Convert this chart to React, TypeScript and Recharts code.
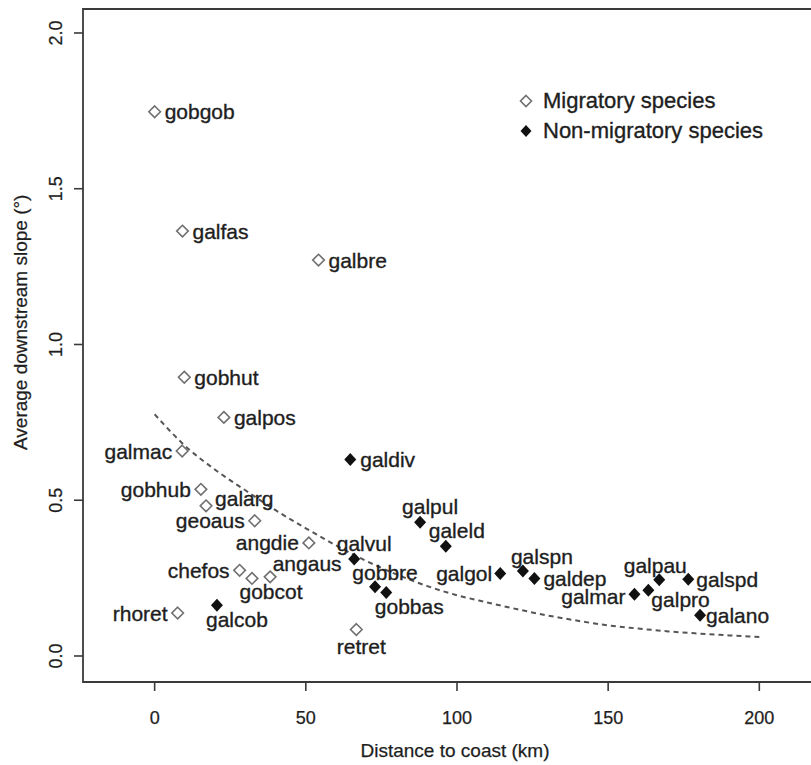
import React from 'react';
import { ComposedChart, Scatter, Line, XAxis, YAxis, ReferenceArea, Legend } from 'recharts';

// migratory species (open diamonds)
const migratoryNames = ['gobgob', 'galfas', 'galbre', 'gobhut', 'galpos', 'galmac', 'gobhub', 'galarg', 'geoaus', 'angdie', 'chefos', 'gobcot', 'angaus', 'rhoret', 'retret'];
const migratoryDistance = [0, 9.2, 54.2, 9.8, 22.9, 9.1, 15.3, 17.0, 33.1, 51.0, 28.1, 32.2, 38.2, 7.6, 66.7];
const migratorySlope = [1.747, 1.364, 1.271, 0.895, 0.766, 0.658, 0.535, 0.482, 0.434, 0.363, 0.275, 0.249, 0.254, 0.138, 0.085];

// non-migratory species (filled diamonds)
const residentNames = ['galdiv', 'galpul', 'galeld', 'galvul', 'gobbre', 'gobbas', 'galcob', 'galgol', 'galspn', 'galdep', 'galmar', 'galpro', 'galpau', 'galspd', 'galano'];
const residentDistance = [64.7, 87.8, 96.3, 66.0, 72.9, 76.6, 20.6, 114.3, 121.8, 125.6, 158.7, 163.3, 166.9, 176.5, 180.4];
const residentSlope = [0.631, 0.429, 0.352, 0.311, 0.222, 0.204, 0.163, 0.265, 0.273, 0.249, 0.198, 0.211, 0.245, 0.246, 0.131];

// fitted curve
const curveDistance = [0, 10, 20, 30, 40, 50, 60, 70, 80, 90, 100, 110, 120, 130, 140, 150, 160, 170, 180, 190, 200];
const curveSlope = [0.776, 0.675, 0.598, 0.532, 0.468, 0.41, 0.355, 0.305, 0.262, 0.225, 0.195, 0.172, 0.15, 0.13, 0.113, 0.098, 0.088, 0.079, 0.072, 0.066, 0.061];

const xTicks = [0, 50, 100, 150, 200];
const yTicks = [0, 0.5, 1, 1.5, 2];

const X_DOMAIN = [-23.7, 224.7];
const Y_DOMAIN = [-0.0835, 2.077];

const SERIES = ['Migratory species', 'Non-migratory species'];

const FONT = '"Liberation Sans", Arial, Helvetica, sans-serif';
const TEXT = '#1e1e1e';

const toPoints = (names, dist, slope) => names.map((name, i) => ({ name, x: dist[i], y: slope[i] }));
const migratory = toPoints(migratoryNames, migratoryDistance, migratorySlope);
const resident = toPoints(residentNames, residentDistance, residentSlope);
const curve = curveDistance.map((x, i) => ({ x, y: curveSlope[i] }));

// where each label sits relative to its point
const R = { dx: 10, dy: 0, anchor: 'start' };
const L = { dx: -10, dy: 0, anchor: 'end' };
const LABELS = {
  galmac: L, gobhub: L, geoaus: L, angdie: L, chefos: L, rhoret: L, galgol: { dx: -8, dy: 0, anchor: 'end' },
  galmar: { dx: -9, dy: 2, anchor: 'end' },
  galarg: { dx: 9, dy: -7, anchor: 'start' },
  galpul: { dx: 10, dy: -16, anchor: 'middle' },
  galeld: { dx: 11, dy: -16, anchor: 'middle' },
  galvul: { dx: 10, dy: -16, anchor: 'middle' },
  gobcot: { dx: 19, dy: 13, anchor: 'middle' },
  angaus: { dx: 37, dy: -13, anchor: 'middle' },
  gobbre: { dx: 10, dy: -14, anchor: 'middle' },
  gobbas: { dx: 23, dy: 14, anchor: 'middle' },
  galcob: { dx: 20, dy: 14, anchor: 'middle' },
  retret: { dx: 5, dy: 17, anchor: 'middle' },
  galspn: { dx: 19, dy: -14, anchor: 'middle' },
  galpau: { dx: -4, dy: -14, anchor: 'middle' },
  galpro: { dx: 3, dy: 9, anchor: 'start' },
  galdep: { dx: 9, dy: 0, anchor: 'start' },
  galspd: { dx: 8, dy: 0, anchor: 'start' },
  galano: { dx: 6, dy: 0, anchor: 'start' },
};

const diamondPath = (cx, cy, w, h) => `M${cx},${cy - h} L${cx + w},${cy} L${cx},${cy + h} L${cx - w},${cy} Z`;

const SpeciesPoint = (props) => {
  const { cx, cy, payload, filled } = props;
  if (cx == null || cy == null) return null;
  const pos = LABELS[payload.name] || R;
  return (
    <g>
      {filled ? (
        <path d={diamondPath(cx, cy, 6, 6.5)} fill="#111" />
      ) : (
        <path d={diamondPath(cx, cy, 5.8, 5.8)} fill="#fff" stroke="#707070" strokeWidth={1.6} />
      )}
      <text
        x={cx + pos.dx}
        y={cy + pos.dy}
        textAnchor={pos.anchor}
        dominantBaseline="central"
        fontSize={21}
        fontFamily={FONT}
        fill={TEXT}
        stroke={TEXT}
        strokeWidth={0.35}
      >
        {payload.name}
      </text>
    </g>
  );
};

const XTick = ({ x, y, payload }) => (
  <text x={x} y={y + 31} textAnchor="middle" fontSize={18} fontFamily={FONT} fill={TEXT} stroke={TEXT} strokeWidth={0.25}>
    {payload.value}
  </text>
);

const YTick = ({ y, payload }) => (
  <text x={62} y={y} transform={`rotate(-90, 62, ${y})`} textAnchor="middle" fontSize={18} fontFamily={FONT} fill={TEXT} stroke={TEXT} strokeWidth={0.25}>
    {Number(payload.value).toFixed(1)}
  </text>
);

const renderLegend = ({ payload }) => (
  <div style={{ fontFamily: FONT, fontSize: 22, color: TEXT, WebkitTextStroke: '0.35px #1e1e1e' }}>
    {(payload || [])
      .filter((entry) => SERIES.includes(entry.value))
      .map((entry) => {
        const filled = entry.value === SERIES[1];
        return (
          <div key={entry.value} style={{ display: 'flex', alignItems: 'center', height: 30, whiteSpace: 'nowrap' }}>
            <svg width={22} height={30}>
              {filled ? (
                <path d={diamondPath(11, 15, 5.5, 6)} fill="#111" />
              ) : (
                <path d={diamondPath(11, 15, 5.5, 5.5)} fill="#fff" stroke="#707070" strokeWidth={1.6} />
              )}
            </svg>
            <span style={{ marginLeft: 6 }}>{entry.value}</span>
          </div>
        );
      })}
  </div>
);

export default function App() {
  return (
    <div style={{ position: 'absolute', left: 0, top: 0, width: 811, height: 765, overflow: 'hidden', background: '#fff' }}>
      <ComposedChart width={850} height={765} margin={{ top: 9, right: 16, bottom: 0, left: 0 }}>
        <XAxis
          dataKey="x"
          type="number"
          domain={X_DOMAIN}
          allowDataOverflow
          ticks={xTicks}
          height={83}
          axisLine={false}
          tickSize={9}
          tickLine={{ stroke: '#3a3a3a', strokeWidth: 1.6 }}
          tick={<XTick />}
          label={() => (
            <text x={455} y={757} textAnchor="middle" fontSize={19} fontFamily={FONT} fill={TEXT} stroke={TEXT} strokeWidth={0.25}>
              Distance to coast (km)
            </text>
          )}
        />
        <YAxis
          dataKey="y"
          type="number"
          domain={Y_DOMAIN}
          allowDataOverflow
          ticks={yTicks}
          width={83}
          axisLine={false}
          tickSize={9}
          tickLine={{ stroke: '#3a3a3a', strokeWidth: 1.6 }}
          tick={<YTick />}
          label={() => (
            <text x={27} y={450} transform="rotate(-90, 27, 450)" textAnchor="start" fontSize={19} fontFamily={FONT} fill={TEXT} stroke={TEXT} strokeWidth={0.25}>
              Average downstream slope (°)
            </text>
          )}
        />
        <ReferenceArea
          x1={X_DOMAIN[0]}
          x2={X_DOMAIN[1]}
          y1={Y_DOMAIN[0]}
          y2={Y_DOMAIN[1]}
          fill="none"
          fillOpacity={0}
          stroke="#3a3a3a"
          strokeWidth={1.8}
          ifOverflow="visible"
        />
        <Line
          data={curve}
          dataKey="y"
          type="monotone"
          stroke="#555"
          strokeWidth={2}
          strokeDasharray="5 4"
          dot={false}
          activeDot={false}
          legendType="none"
          isAnimationActive={false}
        />
        <Scatter
          name={SERIES[0]}
          data={migratory}
          shape={(p) => <SpeciesPoint {...p} filled={false} />}
          isAnimationActive={false}
        />
        <Scatter
          name={SERIES[1]}
          data={resident}
          shape={(p) => <SpeciesPoint {...p} filled />}
          isAnimationActive={false}
        />
        <Legend
          content={renderLegend}
          layout="horizontal"
          verticalAlign="middle"
          align="center"
          wrapperStyle={{ left: 515, top: 86, width: 290, height: 60 }}
        />
      </ComposedChart>
    </div>
  );
}
